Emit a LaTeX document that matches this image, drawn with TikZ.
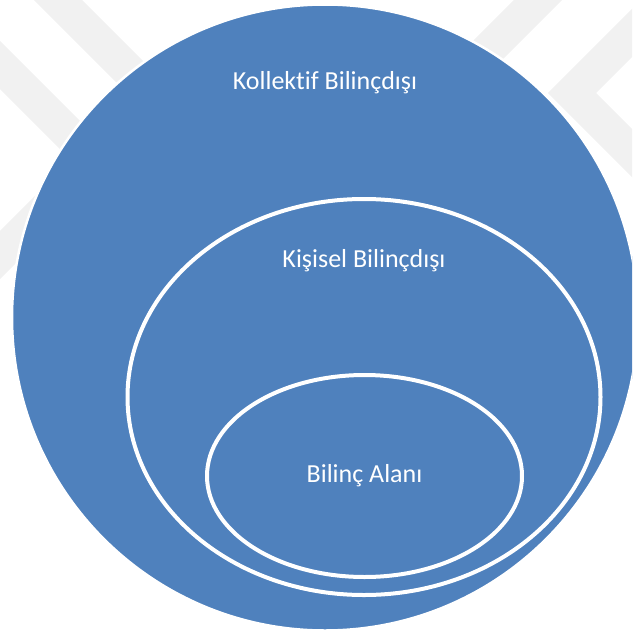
\documentclass[tikz,border=0pt]{standalone}
\usepackage{fontspec}
\setmainfont{Carlito}[Ligatures=NoCommon]
\usepackage{tikz}
\usetikzlibrary{shapes.geometric}
\definecolor{layerblue}{HTML}{4F81BD}
\definecolor{markgray}{HTML}{F1F1F1}

\begin{document}
\begin{tikzpicture}[x=1pt,y=-1pt,
    layer/.style={ellipse,fill=layerblue,draw=white,line width=4pt,inner sep=0pt,outer sep=0pt},
    lbl/.style={text=white,font=\fontsize{26}{30}\selectfont,inner sep=0pt}]
  \useasboundingbox (0,0) rectangle (632,634);
  \clip (0,0) rectangle (632,634);

  % faint chevrons behind
  \draw[markgray,line width=34pt] (10,-48) -- (298,240) -- (586,-48);
  \draw[markgray,line width=34pt] (-40,25) -- (95,160) -- (-40,295);
  \draw[markgray,line width=34pt] (672,-7) -- (572,93) -- (672,193);

  \node[layer,line width=2.5pt,minimum width=626pt,minimum height=626pt] (outer) at (325,317.5) {};
  \node[layer,minimum width=473pt,minimum height=396pt] (personal) at (364,397) {};
  \node[layer,lbl,minimum width=315pt,minimum height=202pt] (conscious) at (364.5,476) {Bilinç Alanı};

  \node[lbl,anchor=base] (outerText) at ([yshift=-85pt]outer.north) {Kollektif Bilinçdışı};
  \node[lbl,anchor=base] (personalText) at ([yshift=-68pt]personal.north) {Kişisel Bilinçdışı};
\end{tikzpicture}
\end{document}
